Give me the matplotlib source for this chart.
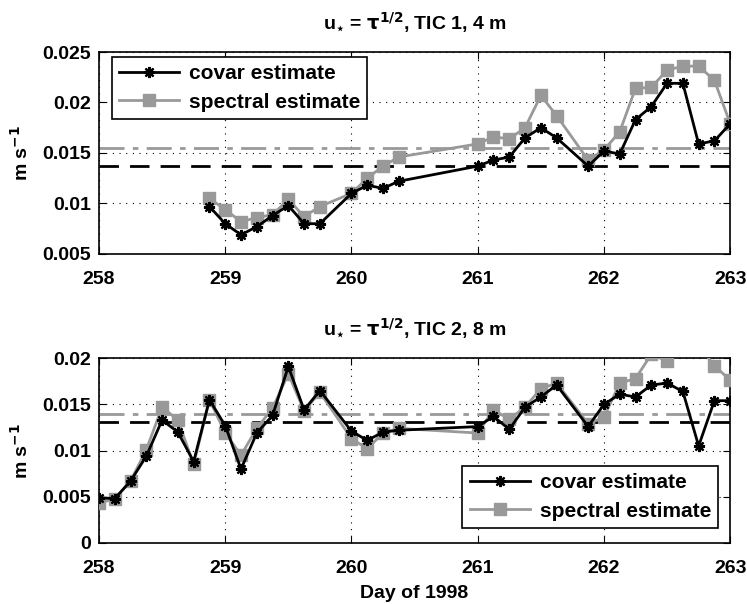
import numpy as np
import matplotlib.pyplot as plt

plt.rcParams['font.family'] = ['Liberation Sans', 'DejaVu Sans']
plt.rcParams['font.weight'] = 'bold'
plt.rcParams['mathtext.default'] = 'bf'

# TIC 1, 4 m
days1 = [258.875, 259.0, 259.125, 259.25, 259.375, 259.5, 259.625, 259.75,
         260.0, 260.125, 260.25, 260.375,
         261.0, 261.125, 261.25, 261.375, 261.5, 261.625, 261.875,
         262.0, 262.125, 262.25, 262.375, 262.5, 262.625, 262.75, 262.875, 263.0]
covar1 = [0.0097, 0.0080, 0.0069, 0.0077, 0.0088, 0.0098, 0.0080, 0.0080,
          0.0110, 0.0118, 0.0115, 0.0122,
          0.0137, 0.0143, 0.0146, 0.0165, 0.0175, 0.0165, 0.0137,
          0.0152, 0.0149, 0.0183, 0.0196, 0.0219, 0.0219, 0.0159, 0.0162, 0.0179]
spec1 = [0.0105, 0.0094, 0.0082, 0.0086, 0.0089, 0.0104, 0.0087, 0.0097,
         0.0110, 0.0125, 0.0137, 0.0146,
         0.0159, 0.0166, 0.0164, 0.0175, 0.0207, 0.0187, 0.0143,
         0.0153, 0.0171, 0.0214, 0.0215, 0.0232, 0.0236, 0.0236, 0.0222, 0.0179]
mean_covar1 = 0.0137
mean_spec1 = 0.0155

# TIC 2, 8 m
days2 = [258.0, 258.125, 258.25, 258.375, 258.5, 258.625, 258.75, 258.875,
         259.0, 259.125, 259.25, 259.375, 259.5, 259.625, 259.75,
         260.0, 260.125, 260.25, 260.375,
         261.0, 261.125, 261.25, 261.375, 261.5, 261.625, 261.875,
         262.0, 262.125, 262.25, 262.375, 262.5, 262.625, 262.75, 262.875, 263.0]
covar2 = [0.0049, 0.0048, 0.0067, 0.0094, 0.0133, 0.0120, 0.0088, 0.0155,
          0.0127, 0.0080, 0.0119, 0.0138, 0.0191, 0.0144, 0.0165,
          0.0121, 0.0111, 0.0120, 0.0122,
          0.0126, 0.0137, 0.0123, 0.0147, 0.0158, 0.0171, 0.0126,
          0.0150, 0.0161, 0.0158, 0.0171, 0.0173, 0.0164, 0.0105, 0.0154, 0.0154]
spec2 = [0.0043, 0.0048, 0.0067, 0.0101, 0.0147, 0.0133, 0.0085, 0.0155,
         0.0119, 0.0095, 0.0124, 0.0146, 0.0183, 0.0143, 0.0163,
         0.0113, 0.0102, 0.0119, 0.0124,
         0.0119, 0.0144, 0.0134, 0.0147, 0.0167, 0.0173, 0.0129,
         0.0136, 0.0173, 0.0178, 0.0204, 0.0197, 0.0215, 0.0213, 0.0192, 0.0176]
mean_covar2 = 0.0131
mean_spec2 = 0.0140

gray = (0.6, 0.6, 0.6)
fs = 14

fig = plt.figure(figsize=(7.47, 6.04), dpi=100)
ax1 = fig.add_axes([0.1325, 0.5795, 0.845, 0.3344])
ax2 = fig.add_axes([0.1325, 0.101, 0.845, 0.306])


def panel(ax, days, covar, spec, mc, ms, ylim, yticks, yticklabels, title, loc, anchor):
  ax.axhline(ms, color=gray, lw=2, dashes=(9, 3, 2, 3))
  ax.axhline(mc, color='k', lw=2, dashes=(7, 4))
  ax.plot(days, covar, '-', color='k', lw=2, marker=(8, 2, 0), ms=8,
          mew=1.6, label='covar estimate', zorder=4)
  ax.plot(days, spec, '-', color=gray, lw=2, marker='s', ms=9,
          label='spectral estimate', zorder=3)
  ax.set_xlim(258, 263)
  ax.set_ylim(*ylim)
  ax.set_xticks([258, 259, 260, 261, 262, 263])
  ax.set_yticks(yticks)
  ax.set_yticklabels(yticklabels)
  ax.grid(True, color='k', ls=(0, (1, 5)), lw=0.8)
  ax.tick_params(direction='in', top=True, right=True, labelsize=fs, length=5)
  ax.tick_params(axis='x', pad=12)
  ax.tick_params(axis='y', pad=6)
  for lab in ax.get_xticklabels() + ax.get_yticklabels():
    lab.set_fontweight('bold')
  for s in ax.spines.values():
    s.set_linewidth(1.2)
  ax.set_ylabel('m s$^{-1}$', fontsize=fs, fontweight='bold', labelpad=7)
  ax.set_title(title, fontsize=fs, fontweight='bold', pad=16)
  leg = ax.legend(loc=loc, bbox_to_anchor=anchor, fontsize=15, frameon=True,
                  fancybox=False, edgecolor='k', framealpha=1, handlelength=2.9,
                  borderpad=0.35, labelspacing=0.45, handletextpad=0.45,
                  borderaxespad=0)
  leg.get_frame().set_linewidth(1.2)
  return ax


panel(ax1, days1, covar1, spec1, mean_covar1, mean_spec1, (0.005, 0.025),
      [0.005, 0.01, 0.015, 0.02, 0.025], ['0.005', '0.01', '0.015', '0.02', '0.025'],
      r'u$_{\star}$ = $\tau^{1/2}$, TIC 1, 4 m', 'upper left', (0.02, 0.975))
panel(ax2, days2, covar2, spec2, mean_covar2, mean_spec2, (0, 0.02),
      [0, 0.005, 0.01, 0.015, 0.02], ['0', '0.005', '0.01', '0.015', '0.02'],
      r'u$_{\star}$ = $\tau^{1/2}$, TIC 2, 8 m', 'lower right', (0.981, 0.081))
ax2.set_xlabel('Day of 1998', fontsize=fs, fontweight='bold', labelpad=6)

fig.savefig('out.png', dpi=100)
